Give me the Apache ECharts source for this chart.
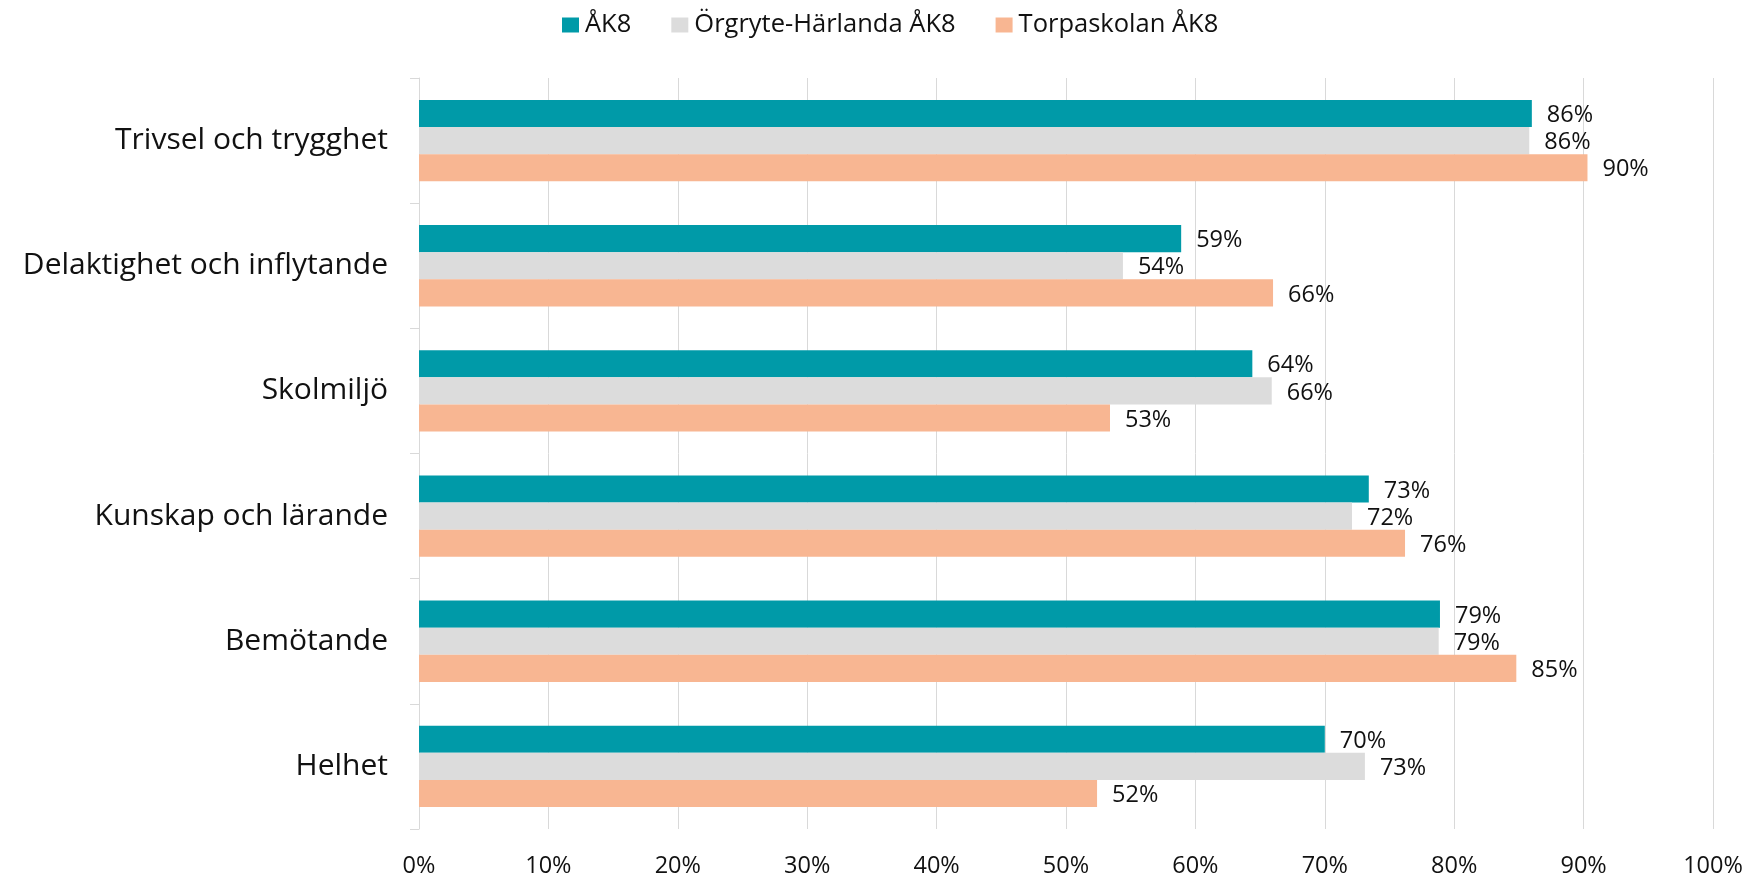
<!DOCTYPE html>
<html><head><meta charset="utf-8">
<script src="https://cdn.jsdelivr.net/npm/echarts@6/dist/echarts.min.js"></script>
<style>html,body{margin:0;padding:0;background:#fff}#c{width:1748px;height:878px}</style>
</head><body><div id="c"></div>
<script>
const categories = ['Trivsel och trygghet','Delaktighet och inflytande','Skolmiljö','Kunskap och lärande','Bemötande','Helhet'];
const seriesNames = ['ÅK8','Örgryte-Härlanda ÅK8','Torpaskolan ÅK8'];
const ak8 = [86.0, 58.9, 64.4, 73.4, 78.9, 70.0];
const orgryte = [85.8, 54.4, 65.9, 72.1, 78.8, 73.1];
const torpa = [90.3, 66.0, 53.4, 76.2, 84.8, 52.4];
const colors = ['#009AA8','#DCDCDC','#F8B692'];
const FONT = '"Open Sans", sans-serif';

const chart = echarts.init(document.getElementById('c'), null, {renderer:'canvas'});
const mk = (name, data, color) => ({
  name, type:'bar', data,
  itemStyle:{color},
  barGap:'0%', barCategoryGap:'35%',
  label:{show:true, position:'right', distance:15, offset:[0,2], color:'#111', fontFamily:FONT, fontSize:23.5,
    formatter:p => Math.round(p.value) + '%'}
});
chart.setOption({
  animation:false,
  textStyle:{fontFamily:FONT},
  legend:{top:12, left:562, padding:0, itemWidth:17, itemHeight:15, itemGap:40, icon:'rect',
    textStyle:{fontFamily:FONT, fontSize:25.5, color:'#111', padding:[0,0,0,1]},
    data:seriesNames},
  grid:{left:419, right:35, top:78, bottom:46, containLabel:false},
  xAxis:{type:'value', min:0, max:100, interval:10,
    axisLine:{show:false}, axisTick:{show:false},
    splitLine:{lineStyle:{color:'#D9D9D9', width:1}},
    axisLabel:{formatter:'{value}%', fontFamily:FONT, fontSize:23.5, color:'#111', margin:25}},
  yAxis:{type:'category', data:categories, inverse:true,
    axisLine:{lineStyle:{color:'#D9D9D9'}},
    axisTick:{show:true, length:9, lineStyle:{color:'#D9D9D9'}},
    axisLabel:{fontFamily:FONT, fontSize:30, color:'#111', margin:31, padding:[4,0,0,0]}},
  series:[mk(seriesNames[0], ak8, colors[0]), mk(seriesNames[1], orgryte, colors[1]), mk(seriesNames[2], torpa, colors[2])]
});
</script></body></html>
